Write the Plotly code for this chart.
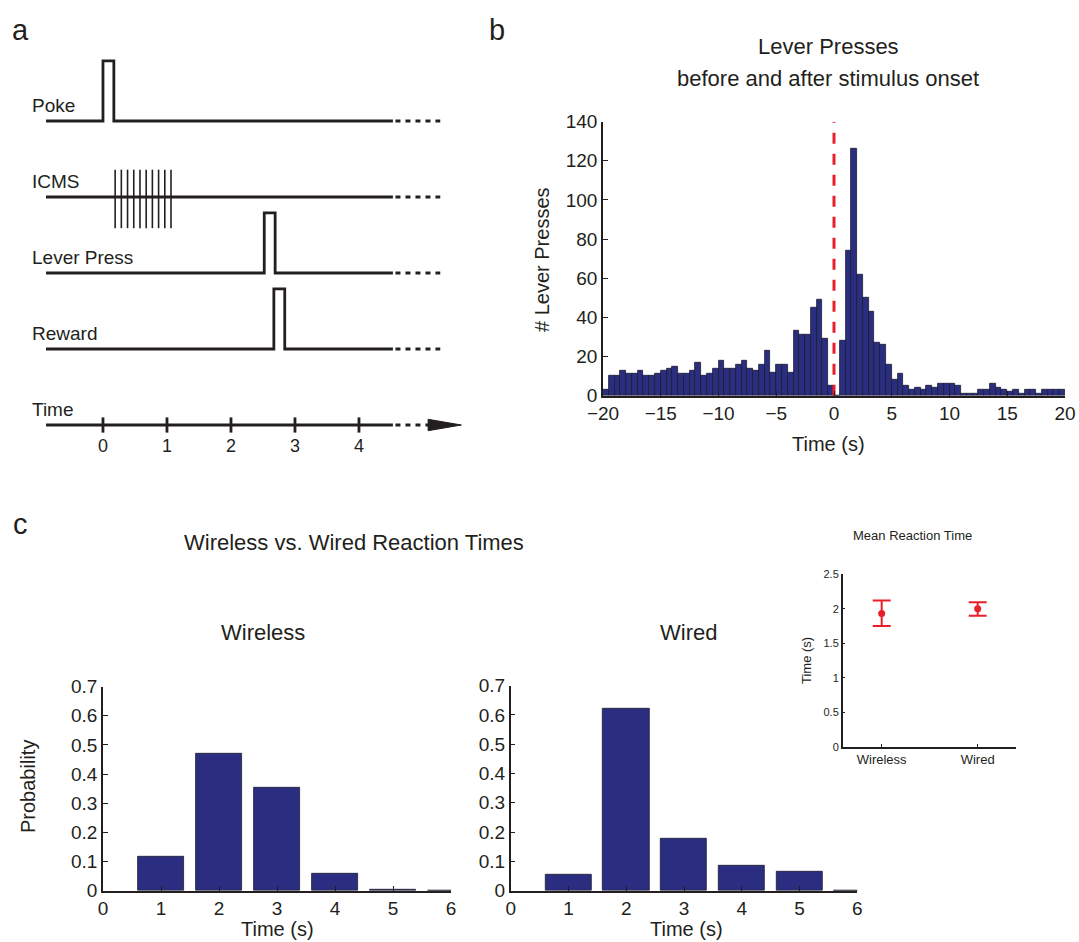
import numpy as np
import plotly.graph_objects as go

# ---------------- data ----------------
# Panel a: schematic event times (s)
poke_time = [0.0, 0.17]
icms_times = [0.19, 0.287, 0.384, 0.481, 0.578, 0.675, 0.772, 0.869, 0.966, 1.063]
lever_time = [2.52, 2.69]
reward_time = [2.67, 2.84]
timeline_start, timeline_end, dotted_end = -0.89, 4.53, 5.27
time_ticks = [0, 1, 2, 3, 4]
row_names = ["Poke", "ICMS", "Lever Press", "Reward", "Time"]

# Panel b: lever press histogram, 0.5 s bins from -20 to 20
bin_width = 0.5
hist_start = -20
counts_before = [3, 10, 10, 13, 11, 11, 13, 10, 10, 11,
                 13, 14, 15, 11, 11, 13, 17, 10, 11, 14,
                 18, 14, 14, 16, 18, 14, 13, 16, 23, 12,
                 16, 16, 12, 33, 31, 31, 45, 49, 29, 5]
counts_after = [0, 28, 74, 126, 62, 50, 43, 27, 26, 16,
                8, 11, 5, 3, 4, 3, 5, 4, 6, 6,
                6, 5, 1, 1, 1, 3, 3, 6, 4, 3,
                2, 3, 1, 3, 3, 1, 3, 3, 3, 3]
stim_onset = 0

# Panel c: reaction time distributions
rt_bins = [1, 2, 3, 4, 5, 6]
wireless_prob = [0.117, 0.47, 0.353, 0.058, 0.002, 0.001]
wired_prob = [0.054, 0.62, 0.179, 0.084, 0.065, 0.0]

# Inset: mean reaction time
groups = ["Wireless", "Wired"]
mean_rt = [1.93, 2.0]
err_plus = [0.19, 0.095]
err_minus = [0.18, 0.10]

# ---------------- style ----------------
W, H = 1079, 942
FONT = "Liberation Sans, Arial, Helvetica, sans-serif"
TXT = "#231F20"
BAR = "#2B2E80"
EDGE = "#1a1a2e"
RED = "#E8202A"


def px(x):
    return x / W


def py(y):
    return 1 - y / H


fig = go.Figure()

# ---------------- panel a ----------------
ROW = {"Poke": 4, "ICMS": 3, "Lever Press": 2, "Reward": 1, "Time": 0}
PULSE = 0.79
LW = 2.8


def pulse_trace(name, t):
    b = ROW[name]
    xs = [timeline_start, t[0], t[0], t[1], t[1], timeline_end]
    ys = [b, b, b + PULSE, b + PULSE, b, b]
    return xs, ys


for name, t in [("Poke", poke_time), ("Lever Press", lever_time), ("Reward", reward_time)]:
    xs, ys = pulse_trace(name, t)
    fig.add_trace(go.Scatter(x=xs, y=ys, mode="lines", line=dict(color=TXT, width=LW),
                             xaxis="x", yaxis="y", hoverinfo="skip"))

# ICMS baseline + pulse train
b = ROW["ICMS"]
fig.add_trace(go.Scatter(x=[timeline_start, timeline_end], y=[b, b], mode="lines",
                         line=dict(color=TXT, width=LW), xaxis="x", yaxis="y", hoverinfo="skip"))
ix, iy = [], []
for t in icms_times:
    ix += [t, t, None]
    iy += [b + 0.36, b - 0.41, None]
fig.add_trace(go.Scatter(x=ix, y=iy, mode="lines", line=dict(color=TXT, width=1.6),
                         xaxis="x", yaxis="y", hoverinfo="skip"))

# Time axis
b = ROW["Time"]
fig.add_trace(go.Scatter(x=[timeline_start, timeline_end], y=[b, b], mode="lines",
                         line=dict(color=TXT, width=LW), xaxis="x", yaxis="y", hoverinfo="skip"))
tx, ty = [], []
for t in time_ticks:
    tx += [t, t, None]
    ty += [b + 0.1, b - 0.1, None]
fig.add_trace(go.Scatter(x=tx, y=ty, mode="lines", line=dict(color=TXT, width=LW),
                         xaxis="x", yaxis="y", hoverinfo="skip"))
fig.add_trace(go.Scatter(x=[5.08, 5.6, 5.08, 5.08], y=[b + 0.075, b, b - 0.075, b + 0.075],
                         mode="lines", fill="toself", fillcolor=TXT,
                         line=dict(color=TXT, width=1), xaxis="x", yaxis="y", hoverinfo="skip"))

# dotted extensions
for name in row_names:
    r = ROW[name]
    end = dotted_end if name != "Time" else 5.12
    fig.add_trace(go.Scatter(x=[timeline_end + 0.04, end], y=[r, r], mode="lines",
                             line=dict(color=TXT, width=LW, dash="5px,5px"),
                             xaxis="x", yaxis="y", hoverinfo="skip"))

for name in row_names:
    fig.add_annotation(x=-1.14, y=ROW[name] + 0.21, xref="x", yref="y", text=name,
                       showarrow=False, xanchor="left", yanchor="middle",
                       font=dict(family=FONT, size=19, color=TXT))
for t in time_ticks:
    fig.add_annotation(x=t, y=-0.28, xref="x", yref="y", text=str(t), showarrow=False,
                       xanchor="center", yanchor="middle", font=dict(family=FONT, size=18, color=TXT))

# ---------------- panel b ----------------
counts = counts_before + counts_after
edges = hist_start + bin_width * np.arange(len(counts))
centers = edges + bin_width / 2
fig.add_trace(go.Bar(x=centers, y=counts, width=bin_width,
                     marker=dict(color=BAR, line=dict(color=EDGE, width=0.8)),
                     xaxis="x2", yaxis="y2", hoverinfo="skip"))
fig.add_trace(go.Scatter(x=[stim_onset, stim_onset], y=[0, 140], mode="lines",
                         line=dict(color=RED, width=3, dash="11px,10px"),
                         xaxis="x2", yaxis="y2", hoverinfo="skip"))

# ---------------- panel c ----------------
fig.add_trace(go.Bar(x=rt_bins, y=wireless_prob, width=0.8,
                     marker=dict(color=BAR, line=dict(color=EDGE, width=0.8)),
                     xaxis="x3", yaxis="y3", hoverinfo="skip", cliponaxis=True))
fig.add_trace(go.Bar(x=rt_bins, y=wired_prob, width=0.8,
                     marker=dict(color=BAR, line=dict(color=EDGE, width=0.8)),
                     xaxis="x4", yaxis="y4", hoverinfo="skip", cliponaxis=True))
fig.add_trace(go.Scatter(x=[1, 2], y=mean_rt, mode="markers",
                         marker=dict(color=RED, size=7),
                         error_y=dict(type="data", array=err_plus, arrayminus=err_minus,
                                      color=RED, thickness=2, width=9),
                         xaxis="x5", yaxis="y5", hoverinfo="skip"))

# ---------------- axes ----------------
hidden = dict(visible=False, showgrid=False, zeroline=False)
tickfont = dict(family=FONT, size=19, color=TXT)
common = dict(showline=True, linecolor=TXT, linewidth=1.5, ticks="inside", ticklen=5,
              tickcolor=TXT, showgrid=False, zeroline=False, tickfont=tickfont,
              automargin=False)
prob_ticks = [0, 0.1, 0.2, 0.3, 0.4, 0.5, 0.6, 0.7]
prob_text = ["0", "0.1", "0.2", "0.3", "0.4", "0.5", "0.6", "0.7"]

fig.update_layout(
    xaxis=dict(domain=[0, px(480)], range=[-1.609, 5.891], anchor="y", **hidden),
    yaxis=dict(domain=[py(450), py(40)], range=[-0.329, 5.066], anchor="x", **hidden),
    xaxis2=dict(domain=[px(603), px(1065)], range=[-20, 20], anchor="y2",
                tickvals=[-20, -15, -10, -5, 0, 5, 10, 15, 20],
                ticktext=["\u221220", "\u221215", "\u221210", "\u22125", "0", "5", "10", "15", "20"],
                **common),
    yaxis2=dict(domain=[py(395.7), py(121.7)], range=[0, 140], anchor="x2",
                tickvals=[0, 20, 40, 60, 80, 100, 120, 140], **common),
    xaxis3=dict(domain=[px(103), px(451)], range=[0, 6], anchor="y3",
                tickvals=[0, 1, 2, 3, 4, 5, 6], **common),
    yaxis3=dict(domain=[py(890.7), py(686.7)], range=[0, 0.7], anchor="x3",
                tickvals=prob_ticks, ticktext=prob_text, **common),
    xaxis4=dict(domain=[px(510.7), px(857.3)], range=[0, 6], anchor="y4",
                tickvals=[0, 1, 2, 3, 4, 5, 6], **common),
    yaxis4=dict(domain=[py(890.7), py(685.7)], range=[0, 0.7], anchor="x4",
                tickvals=prob_ticks, ticktext=prob_text, **common),
    xaxis5=dict(domain=[px(842.7), px(1015.7)], range=[0.594, 2.396], anchor="y5",
                tickvals=[1, 2], ticktext=groups,
                **{**common, "tickfont": dict(family=FONT, size=13, color=TXT), "ticklen": 3}),
    yaxis5=dict(domain=[py(746.7), py(574.3)], range=[0, 2.5], anchor="x5",
                tickvals=[0, 0.5, 1, 1.5, 2, 2.5], ticktext=["0", "0.5", "1", "1.5", "2", "2.5"],
                **{**common, "tickfont": dict(family=FONT, size=11, color=TXT), "ticklen": 3}),
)


def text(x, y, s, size, angle=0, xanchor="center"):
    fig.add_annotation(x=px(x), y=py(y), xref="paper", yref="paper", text=s, showarrow=False,
                       xanchor=xanchor, yanchor="middle", textangle=angle,
                       font=dict(family=FONT, size=size, color=TXT))


text(20, 30, "a", 29)
text(497, 30, "b", 29)
text(20, 524, "c", 29)

text(828, 47, "Lever Presses", 22)
text(828, 79, "before and after stimulus onset", 22)
text(542, 260, "# Lever Presses", 20, angle=-90)
text(828, 444, "Time (s)", 20)

text(354, 542, "Wireless vs. Wired Reaction Times", 22)
text(263, 632, "Wireless", 22)
text(688, 632, "Wired", 22)
text(28, 787, "Probability", 20, angle=-90)
text(277, 929, "Time (s)", 20)
text(686, 929, "Time (s)", 20)

text(912, 535, "Mean Reaction Time", 13)
text(806, 661, "Time (s)", 13, angle=-90)

fig.update_layout(width=W, height=H,
                  margin=dict(l=0, r=0, t=0, b=0, pad=0, autoexpand=False),
                  paper_bgcolor="white", plot_bgcolor="white", showlegend=False,
                  bargap=0, font=dict(family=FONT, color=TXT))

fig.write_html("out.html", config={"displayModeBar": False},
               post_script="document.body.style.margin='0';document.body.style.overflow='hidden';")
